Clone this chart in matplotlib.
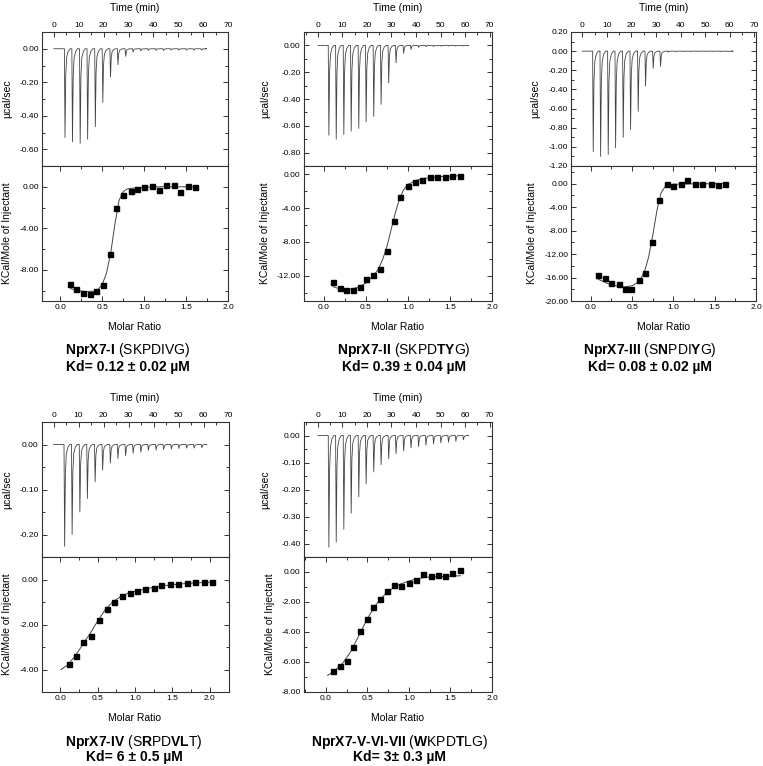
import numpy as np
import matplotlib
matplotlib.use('Agg')
import matplotlib.pyplot as plt
from matplotlib.ticker import MultipleLocator, FormatStrFormatter

plt.rcParams['font.family'] = ['Liberation Sans', 'DejaVu Sans']
plt.rcParams['mathtext.fontset'] = 'custom'
plt.rcParams['mathtext.rm'] = 'Liberation Sans'
plt.rcParams['mathtext.bf'] = 'Liberation Sans:bold'

W, H = 763, 766

# injection times (min), same protocol for every run
inj_t = [4.2, 7.2, 10.3, 13.3, 16.4, 19.4, 22.5, 25.5, 28.6, 31.6,
         34.7, 37.7, 40.8, 43.8, 46.9, 49.9, 53.0, 56.0, 59.1]

# raw heat peaks (ucal/sec)
raw1 = [-0.53, -0.555, -0.565, -0.54, -0.465, -0.32, -0.17, -0.095, -0.045, -0.02,
        -0.012, -0.01, -0.01, -0.01, -0.008, -0.008, -0.008, -0.008, -0.008]
raw2 = [-0.67, -0.70, -0.665, -0.64, -0.62, -0.57, -0.53, -0.44, -0.28, -0.13,
        -0.06, -0.03, -0.015, -0.01, -0.008, -0.006, -0.005, -0.005, -0.005]
raw3 = [-1.05, -1.10, -1.08, -1.01, -0.90, -0.82, -0.63, -0.365, -0.18, -0.16,
        -0.01, -0.008, -0.006, -0.005, -0.005, -0.005, -0.005, -0.005, -0.005]
raw4 = [-0.226, -0.20, -0.15, -0.12, -0.083, -0.057, -0.041, -0.031, -0.025, -0.019,
        -0.017, -0.013, -0.012, -0.011, -0.010, -0.009, -0.008, -0.008, -0.007]
raw5 = [-0.414, -0.395, -0.347, -0.288, -0.227, -0.179, -0.135, -0.108, -0.086, -0.067,
        -0.057, -0.046, -0.041, -0.036, -0.031, -0.027, -0.025, -0.021, -0.016]

# integrated heats (kcal/mol of injectant) vs molar ratio
ratio1 = [0.12, 0.19, 0.27, 0.35, 0.43, 0.51, 0.59, 0.66, 0.75, 0.84,
          0.91, 1.00, 1.09, 1.18, 1.26, 1.35, 1.43, 1.52, 1.61]
heat1 = [-9.35, -9.8, -10.2, -10.3, -10.0, -9.45, -6.47, -2.09, -0.75, -0.36,
         -0.26, -0.07, 0.03, -0.29, 0.2, 0.13, -0.49, 0.07, -0.07]
fitx1 = [0.12, 0.2, 0.3, 0.4, 0.45, 0.5, 0.55, 0.6, 0.65, 0.7, 0.75, 0.8, 0.9, 1.0, 1.2, 1.61]
fity1 = [-9.8, -10.0, -10.1, -10.05, -9.9, -9.4, -8.3, -6.4, -3.6, -1.3, -0.45, -0.2, -0.1, -0.05, 0.0, 0.0]

ratio2 = [0.11, 0.19, 0.27, 0.35, 0.43, 0.50, 0.59, 0.67, 0.75, 0.83,
          0.91, 1.00, 1.09, 1.17, 1.26, 1.35, 1.44, 1.53, 1.62]
heat2 = [-12.7, -13.45, -13.7, -13.75, -13.35, -12.4, -11.95, -11.2, -9.1, -5.5,
         -2.7, -1.4, -0.95, -0.6, -0.35, -0.3, -0.25, -0.15, -0.2]
fitx2 = [0.11, 0.2, 0.3, 0.4, 0.5, 0.6, 0.65, 0.7, 0.75, 0.8, 0.85, 0.9, 0.95, 1.0, 1.1, 1.2, 1.4, 1.62]
fity2 = [-13.3, -13.6, -13.65, -13.4, -12.9, -11.9, -11.2, -10.1, -8.6, -6.6, -4.6, -2.9, -1.8, -1.2, -0.7, -0.45, -0.25, -0.15]

ratio3 = [0.09, 0.17, 0.25, 0.34, 0.41, 0.49, 0.58, 0.66, 0.74, 0.83,
          0.92, 1.00, 1.09, 1.17, 1.26, 1.35, 1.45, 1.54, 1.63]
heat3 = [-15.6, -16.0, -16.9, -17.1, -17.95, -18.0, -16.5, -15.3, -9.9, -2.85,
         -0.1, -0.35, -0.1, 0.6, -0.05, -0.05, 0.0, -0.25, -0.05]
fitx3 = [0.09, 0.2, 0.3, 0.4, 0.5, 0.55, 0.6, 0.65, 0.7, 0.75, 0.8, 0.85, 0.9, 0.95, 1.0, 1.2, 1.63]
fity3 = [-16.3, -17.0, -17.4, -17.6, -17.4, -17.0, -16.3, -15.0, -12.5, -8.8, -4.6, -1.6, -0.5, -0.2, -0.1, -0.05, 0.0]

ratio4 = [0.12, 0.21, 0.31, 0.41, 0.52, 0.62, 0.72, 0.82, 0.93, 1.03,
          1.14, 1.25, 1.35, 1.47, 1.58, 1.69, 1.80, 1.92, 2.03]
heat4 = [-3.76, -3.40, -2.79, -2.49, -1.78, -1.30, -0.99, -0.75, -0.60, -0.51,
         -0.43, -0.37, -0.25, -0.22, -0.19, -0.16, -0.12, -0.13, -0.13]
fitx4 = [0.01, 0.1, 0.2, 0.3, 0.4, 0.5, 0.6, 0.7, 0.8, 0.9, 1.0, 1.2, 1.4, 1.6, 1.8, 2.03]
fity4 = [-4.0, -3.8, -3.4, -2.9, -2.4, -1.85, -1.35, -1.0, -0.78, -0.62, -0.52, -0.38, -0.27, -0.2, -0.15, -0.12]

ratio5 = [0.09, 0.17, 0.25, 0.33, 0.41, 0.49, 0.57, 0.65, 0.74, 0.82,
          0.91, 1.00, 1.08, 1.17, 1.26, 1.35, 1.43, 1.52, 1.61]
heat5 = [-6.6, -6.27, -5.96, -5.02, -3.91, -3.16, -2.33, -1.78, -1.27, -0.87,
         -0.91, -0.71, -0.53, -0.13, -0.24, -0.22, -0.27, -0.07, 0.13]
fitx5 = [0.02, 0.1, 0.2, 0.3, 0.4, 0.5, 0.6, 0.7, 0.8, 0.9, 1.0, 1.1, 1.2, 1.4, 1.62]
fity5 = [-6.9, -6.6, -6.1, -5.3, -4.2, -3.1, -2.2, -1.55, -1.1, -0.8, -0.6, -0.45, -0.35, -0.3, -0.25]

# captions: bold parts go in \mathbf, the hyphen is U+2010 so it stays a hyphen
names = [r"$\mathbf{NprX7‐I}$ (SKPDIVG)",
         r"$\mathbf{NprX7‐II}$ (SKPD$\mathbf{TY}$G)",
         r"$\mathbf{NprX7‐III}$ (S$\mathbf{N}$PDI$\mathbf{Y}$G)",
         r"$\mathbf{NprX7‐IV}$ (S$\mathbf{R}$PD$\mathbf{VL}$T)",
         r"$\mathbf{NprX7‐V‐VI‐VII}$ ($\mathbf{W}$KPD$\mathbf{T}$LG)"]
kds = ["Kd= 0.12 \u00b1 0.02 \u00b5M", "Kd= 0.39 \u00b1 0.04 \u00b5M", "Kd= 0.08 \u00b1 0.02 \u00b5M",
       "Kd= 6 \u00b1 0.5 \u00b5M", "Kd= 3\u00b1 0.3 \u00b5M"]

# layout in pixels: (left, right, top, mid, bottom), caption centre x, caption y
panels = [
    dict(box=(42, 228, 32, 166, 301), raw=raw1, rx=ratio1, hy=heat1, fx=fitx1, fy=fity1,
         ylim_t=(-0.7, 0.1), st_t=0.2, ylim_b=(-11, 2), st_b=4, tx=(-4.8, 70), rxl=(-0.22, 2.0),
         cx=128, cy=(350, 367), lx=(12, 12)),
    dict(box=(303.5, 492, 32, 166, 301), raw=raw2, rx=ratio2, hy=heat2, fx=fitx2, fy=fity2,
         ylim_t=(-0.9, 0.1), st_t=0.2, ylim_b=(-15, 1), st_b=4, tx=(-5.9, 71), rxl=(-0.24, 2.0),
         cx=404, cy=(350, 367), lx=(270, 270)),
    dict(box=(571, 756, 32, 166, 301), raw=raw3, rx=ratio3, hy=heat3, fx=fitx3, fy=fity3,
         ylim_t=(-1.2, 0.2), st_t=0.2, ylim_b=(-20, 3), st_b=4, tx=(-4.6, 70.7), rxl=(-0.24, 2.0),
         cx=650, cy=(350, 367), lx=(540, 537)),
    dict(box=(41.5, 228.5, 422, 557, 692), raw=raw4, rx=ratio4, hy=heat4, fx=fitx4, fy=fity4,
         ylim_t=(-0.25, 0.05), st_t=0.1, ylim_b=(-5, 1), st_b=2, tx=(-4.8, 70), rxl=(-0.25, 2.25),
         cx=134, cy=(742, 757), lx=(12, 12)),
    dict(box=(303.5, 492, 422, 557, 692), raw=raw5, rx=ratio5, hy=heat5, fx=fitx5, fy=fity5,
         ylim_t=(-0.45, 0.05), st_t=0.1, ylim_b=(-8, 1), st_b=2, tx=(-5.9, 71), rxl=(-0.27, 2.0),
         cx=399, cy=(742, 757), lx=(270, 275)),
]

fig = plt.figure(figsize=(W / 100, H / 100), dpi=100)


def add_ax(l, r, t, b):
    return fig.add_axes([l / W, 1 - b / H, (r - l) / W, (b - t) / H])


def style(ax):
    for s in ax.spines.values():
        s.set_linewidth(0.8)
        s.set_color('#333333')
    ax.tick_params(which='both', direction='in', top=True, right=True,
                   labelsize=6, width=0.7, color='#333333', pad=2)
    ax.tick_params(which='major', length=3.5)
    ax.tick_params(which='minor', length=2)


def trace(times, peaks):
    t, y = [0.0], [0.0]
    for ti, p in zip(times, peaks):
        t += [ti, ti + 0.25, ti + 0.55, ti + 0.9, ti + 1.5, ti + 2.3]
        y += [0, p, 0.3 * p, 0.1 * p, 0.03 * p, 0]
    t.append(61.0)
    y.append(0.0)
    return t, y


for p, name, kd in zip(panels, names, kds):
    l, r, t, m, b = p['box']
    ax1 = add_ax(l, r, t, m)
    ax2 = add_ax(l, r, m, b)
    style(ax1)
    style(ax2)

    tt, yy = trace(inj_t, p['raw'])
    ax1.plot(tt, yy, color='#444444', lw=0.6)
    ax1.set_xlim(*p['tx'])
    ax1.set_ylim(*p['ylim_t'])
    ax1.xaxis.set_major_locator(MultipleLocator(10))
    ax1.xaxis.set_minor_locator(MultipleLocator(5))
    ax1.yaxis.set_major_locator(MultipleLocator(p['st_t']))
    ax1.yaxis.set_minor_locator(MultipleLocator(p['st_t'] / 2))
    ax1.yaxis.set_major_formatter(FormatStrFormatter('%.2f'))
    ax1.tick_params(which='both', bottom=False, labelbottom=False, labeltop=True)
    ax1.xaxis.set_label_position('top')
    ax1.set_xlabel('Time (min)', fontsize=7.5)
    ax1.xaxis.set_label_coords(0.5, 1 + 21 / (m - t))
    ax1.set_ylabel('\u00b5cal/sec', fontsize=7.5)
    ax1.yaxis.set_label_coords((p['lx'][0] - l) / (r - l), 0.5)

    ax2.plot(p['fx'], p['fy'], color='#444444', lw=0.7)
    ax2.plot(p['rx'], p['hy'], 's', color='black', ms=3.6)
    ax2.set_xlim(*p['rxl'])
    ax2.set_ylim(*p['ylim_b'])
    ax2.xaxis.set_major_locator(MultipleLocator(0.5))
    ax2.xaxis.set_minor_locator(MultipleLocator(0.25))
    ax2.xaxis.set_major_formatter(FormatStrFormatter('%.1f'))
    ax2.yaxis.set_major_locator(MultipleLocator(p['st_b']))
    ax2.yaxis.set_minor_locator(MultipleLocator(p['st_b'] / 2))
    ax2.yaxis.set_major_formatter(FormatStrFormatter('%.2f'))
    ax2.set_xlabel('Molar Ratio', fontsize=7.5)
    ax2.xaxis.set_label_coords(0.5, -21 / (b - m))
    ax2.set_ylabel('KCal/Mole of Injectant', fontsize=7.5)
    ax2.yaxis.set_label_coords((p['lx'][1] - l) / (r - l), 0.5)

    fig.text(p['cx'] / W, 1 - p['cy'][0] / H, name, fontsize=10, ha='center', va='center')
    fig.text(p['cx'] / W, 1 - p['cy'][1] / H, kd, fontsize=10, ha='center', va='center',
             fontweight='bold')

fig.savefig('out.png', dpi=100)
